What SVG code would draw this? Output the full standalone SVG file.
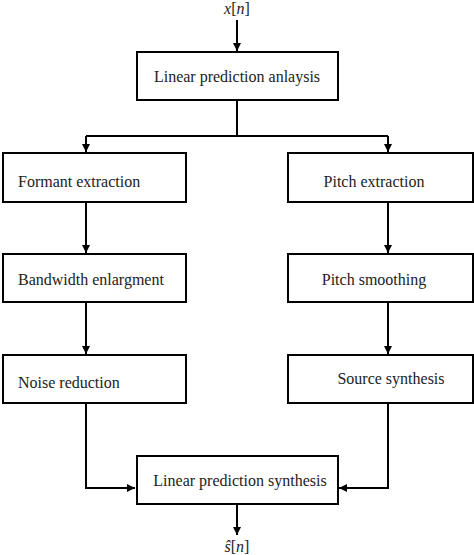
<svg xmlns="http://www.w3.org/2000/svg" width="474" height="555" viewBox="0 0 474 555">
<style>
.box{fill:#fff;stroke:#000;stroke-width:2}
.ln{fill:none;stroke:#000;stroke-width:2}
text{font-family:"Liberation Serif","Times New Roman",serif;font-size:16px;fill:#222}
.m{text-anchor:middle}
.it{font-style:italic}
</style>
<defs>
<marker id="ah" viewBox="0 0 10 10" refX="10" refY="5" markerWidth="4" markerHeight="4" orient="auto" markerUnits="strokeWidth">
<path d="M0,0 L10,5 L0,10 z" fill="#000"/>
</marker>
</defs>
<rect width="474" height="555" fill="#fff"/>
<g id="connectors">
<path class="ln" d="M237,20 V51" marker-end="url(#ah)"/>
<path class="ln" d="M237,100 V136 M86,136 H388"/>
<path class="ln" d="M86,136 V152" marker-end="url(#ah)"/>
<path class="ln" d="M388,136 V152" marker-end="url(#ah)"/>
<path class="ln" d="M86,202 V253" marker-end="url(#ah)"/>
<path class="ln" d="M388,202 V253" marker-end="url(#ah)"/>
<path class="ln" d="M86,302 V354" marker-end="url(#ah)"/>
<path class="ln" d="M388,302 V354" marker-end="url(#ah)"/>
<path class="ln" d="M86,403 V488 H135" marker-end="url(#ah)"/>
<path class="ln" d="M388,403 V488 H339" marker-end="url(#ah)"/>
<path class="ln" d="M237,504 V535" marker-end="url(#ah)"/>
</g>
<g id="input"><text class="m" x="237" y="14"><tspan class="it">x</tspan>[<tspan class="it">n</tspan>]</text></g>
<g id="lpa"><rect class="box" x="137" y="52" width="201" height="48"/><text class="m" x="237" y="82">Linear prediction anlaysis</text></g>
<g id="formant"><rect class="box" x="3" y="153" width="183" height="49"/><text x="18" y="187">Formant extraction</text></g>
<g id="pitch"><rect class="box" x="288" y="153" width="185" height="49"/><text class="m" x="374" y="187">Pitch extraction</text></g>
<g id="bandwidth"><rect class="box" x="3" y="254" width="183" height="48"/><text x="18" y="285">Bandwidth enlargment</text></g>
<g id="smoothing"><rect class="box" x="288" y="254" width="185" height="48"/><text class="m" x="374" y="285">Pitch smoothing</text></g>
<g id="noise"><rect class="box" x="3" y="355" width="183" height="48"/><text x="18" y="388">Noise reduction</text></g>
<g id="source"><rect class="box" x="288" y="355" width="185" height="48"/><text class="m" x="391" y="384">Source synthesis</text></g>
<g id="lps"><rect class="box" x="137" y="456" width="201" height="48"/><text class="m" x="240" y="486">Linear prediction synthesis</text></g>
<g id="output"><text class="m" x="237" y="552"><tspan class="it">ŝ</tspan>[<tspan class="it">n</tspan>]</text></g>
</svg>
